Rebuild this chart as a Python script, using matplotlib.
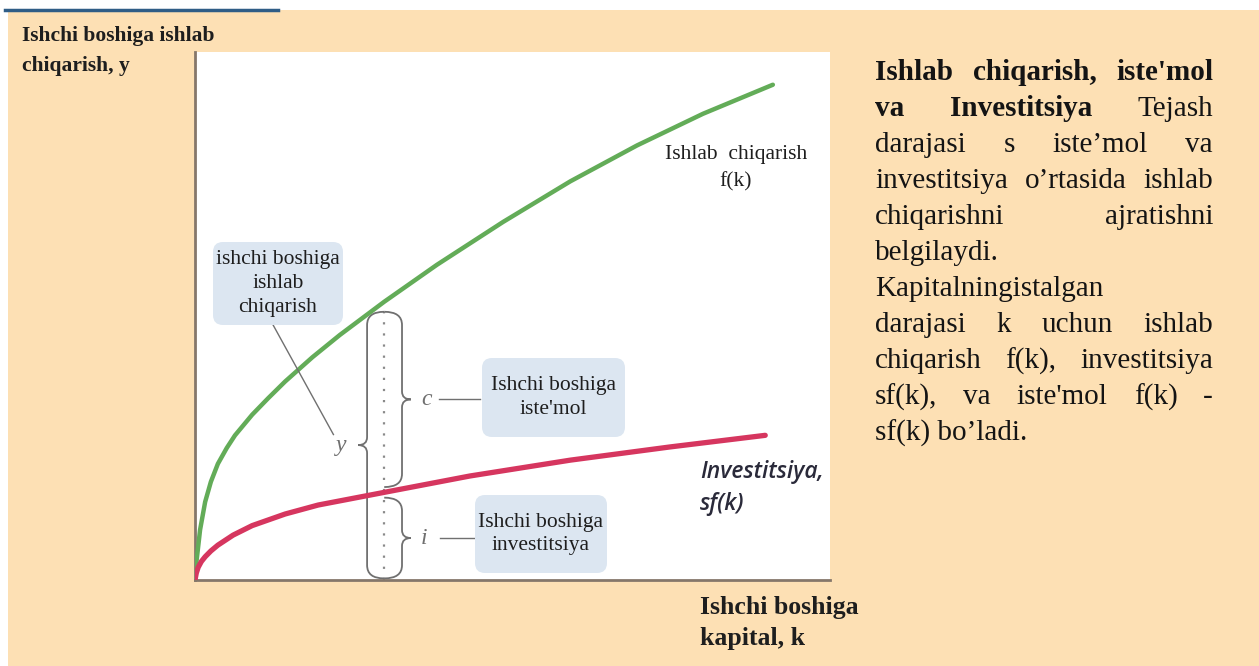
import numpy as np
import matplotlib.pyplot as plt
from matplotlib.patches import FancyBboxPatch, PathPatch, Rectangle
from matplotlib.path import Path
from matplotlib.lines import Line2D
from matplotlib.transforms import Affine2D

W, H = 1259, 666

# values (k on 0..10, y on 0..10)
capital_k = [0, 0.01, 0.03, 0.08, 0.16, 0.25, 0.36, 0.50, 0.63, 0.90, 1.15, 1.42, 1.85,
             2.28, 2.98, 3.81, 4.85, 5.91, 6.96, 8.00, 9.10]
output_fk = [0, 0.22, 0.42, 0.95, 1.48, 1.86, 2.20, 2.50, 2.74, 3.13, 3.44, 3.76, 4.22,
             4.64, 5.27, 5.97, 6.78, 7.55, 8.23, 8.83, 9.38]

invest_k = [0, 0.02, 0.05, 0.10, 0.16, 0.25, 0.36, 0.60, 0.90, 1.42, 1.94, 2.98, 4.33,
            5.91, 7.48, 8.98]
invest_sfk = [0, 0.13, 0.24, 0.35, 0.44, 0.55, 0.66, 0.85, 1.03, 1.25, 1.42, 1.66, 1.97,
              2.27, 2.52, 2.74]

k_star = 2.98   # chosen capital level
y_star = 5.08   # output per worker at k_star (top of bracket)
i_star = 1.66   # investment per worker at k_star

y_label = ["Ishchi boshiga ishlab", "chiqarish, y"]
x_label = ["Ishchi boshiga", "kapital, k"]
box_output = "ishchi boshiga\nishlab\nchiqarish"
box_consumption = "Ishchi boshiga\niste'mol"
box_investment = "Ishchi boshiga\ninvestitsiya"
curve_output = "Ishlab  chiqarish\nf(k)"
curve_invest = "Investitsiya,\nsf(k)"

# paragraph: (words, bold flags, justify)
para_lines = [
    (["Ishlab", "chiqarish,", "iste'mol"], [1, 1, 1], True),
    (["va", "Investitsiya", "Tejash"], [1, 1, 0], True),
    (["darajasi", "s", "iste\u2019mol", "va"], [0, 0, 0, 0], True),
    (["investitsiya", "o\u2019rtasida", "ishlab"], [0, 0, 0], True),
    (["chiqarishni", "ajratishni"], [0, 0], True),
    (["belgilaydi."], [0], False),
    (["Kapitalningistalgan"], [0], False),
    (["darajasi", "k", "uchun", "ishlab"], [0, 0, 0, 0], True),
    (["chiqarish", "f(k),", "investitsiya"], [0, 0, 0], True),
    (["sf(k),", "va", "iste'mol", "f(k)", "-"], [0, 0, 0, 0, 0], True),
    (["sf(k)", "bo\u2019ladi."], [0, 0], False),
]

PEACH = '#FDE0B4'
SERIF = 'Liberation Serif'

fig = plt.figure(figsize=(W / 100, H / 100), dpi=100)
fig.patch.set_facecolor('white')
px = Affine2D().scale(1 / W, -1 / H).translate(0, 1) + fig.transFigure

fig.add_artist(Rectangle((8, 10), W - 8, H - 10, transform=px, fc=PEACH, ec='none', zorder=0))
fig.add_artist(Line2D([5, 278], [10, 10], transform=px, color='#2F5D86', lw=2.5))

ax = fig.add_axes([195 / W, 1 - 580 / H, 635 / W, 528 / H])
ax.set_xlim(0, 10)
ax.set_ylim(0, 10)
ax.set_facecolor('white')
ax.set_xticks([])
ax.set_yticks([])
for s in ['top', 'right']:
    ax.spines[s].set_visible(False)
for s in ['left', 'bottom']:
    ax.spines[s].set_color('#85776A')
    ax.spines[s].set_linewidth(2)

ax.plot(capital_k, output_fk, color='#63AC58', lw=3.2, solid_capstyle='round',
        solid_joinstyle='round', zorder=3)
ax.plot(invest_k, invest_sfk, color='#D6365F', lw=3.8, solid_capstyle='round',
        solid_joinstyle='round', zorder=3)

# dotted line at k_star
ax.plot([k_star, k_star], [0, y_star], color='#8A8A8A', lw=1.6, linestyle=(0, (1, 4)), zorder=2)


def brace(x_line, x_end, x_tip, y0, y1, r=0.25, rt=0.15):
    ym = (y0 + y1) / 2
    verts = [(x_end, y1), (x_line, y1), (x_line, y1 - r),
             (x_line, ym + rt),
             (x_line, ym), (x_tip, ym),
             (x_line, ym), (x_line, ym - rt),
             (x_line, y0 + r),
             (x_line, y0), (x_end, y0)]
    codes = [Path.MOVETO, Path.CURVE3, Path.CURVE3, Path.LINETO,
             Path.CURVE3, Path.CURVE3, Path.CURVE3, Path.CURVE3,
             Path.LINETO, Path.CURVE3, Path.CURVE3]
    ax.add_patch(PathPatch(Path(verts, codes), fc='none', ec='#707070', lw=1.3, zorder=2))
    return ym


ym_y = brace(k_star - 0.27, k_star, k_star - 0.41, 0.03, y_star)
ym_c = brace(k_star + 0.28, k_star, k_star + 0.42, i_star + 0.1, y_star)
ym_i = brace(k_star + 0.28, k_star, k_star + 0.42, 0.03, i_star - 0.1)

lab = dict(fontsize=17, style='italic', color='#707070', family=SERIF, ha='center', va='center')
ax.text(k_star - 0.68, ym_y, 'y', **lab)
ax.text(k_star + 0.66, ym_c, 'c', **lab)
ax.text(k_star + 0.62, ym_i, 'i', **lab)
ax.plot([k_star + 0.86, k_star + 1.51], [ym_c, ym_c], color='#707070', lw=1)
ax.plot([k_star + 0.88, k_star + 1.43], [ym_i, ym_i], color='#707070', lw=1)
ax.plot([1.23, k_star - 0.8], [4.83, ym_y + 0.2], color='#707070', lw=1, zorder=4)

# label boxes (pixel placement)
for (x0, y0, x1, y1), txt in [((213, 242, 343, 325), box_output),
                              ((482, 358, 625, 437), box_consumption),
                              ((475, 495, 607, 573), box_investment)]:
    fig.add_artist(FancyBboxPatch((x0, y0), x1 - x0, y1 - y0, transform=px,
                                  boxstyle='round,pad=0,rounding_size=10',
                                  fc='#DCE6F1', ec='none', zorder=5))
    fig.text((x0 + x1) / 2 / W, 1 - (y0 + y1) / 2 / H, txt, ha='center', va='center',
             fontsize=15.5, family=SERIF, color='#1E1E1E', linespacing=1.35, zorder=6)

fig.text(736 / W, 1 - 168 / H, curve_output, ha='center', va='center', fontsize=15.5,
         family=SERIF, color='#1E1E1E', linespacing=1.55)
fig.text(700 / W, 1 - 488 / H, curve_invest, ha='left', va='center', fontsize=16.5,
         family='Open Sans', style='italic', weight='semibold', color='#2A2A3A', linespacing=1.4)

fig.text(22 / W, 1 - 51 / H, "\n".join(y_label), ha='left', va='center', fontsize=15.5,
         family=SERIF, weight='bold', color='#1E1E1E', linespacing=1.65)
fig.text(700 / W, 1 - 623 / H, "\n".join(x_label), ha='left', va='center', fontsize=18.5,
         family=SERIF, weight='bold', color='#1E1E1E', linespacing=1.45)

# justified paragraph on the right
renderer = fig.canvas.get_renderer()
left, right = 875, 1213
for i, (words, bold, justify) in enumerate(para_lines):
    yc = 1 - (70 + 36 * i) / H
    if not justify:
        fig.text(left / W, yc, " ".join(words), ha='left', va='center_baseline', fontsize=21,
                 family=SERIF, weight='bold' if bold[0] else 'normal', color='#141414')
        continue
    texts = [fig.text(0, yc, w, ha='left', va='center_baseline', fontsize=21, family=SERIF,
                      weight='bold' if b else 'normal', color='#141414')
             for w, b in zip(words, bold)]
    widths = [t.get_window_extent(renderer).width for t in texts]
    gap = (right - left - sum(widths)) / (len(words) - 1)
    x = left
    for t, wd in zip(texts, widths):
        t.set_x(x / W)
        x += wd + gap

fig.savefig('out.png', dpi=100, facecolor=fig.get_facecolor())
